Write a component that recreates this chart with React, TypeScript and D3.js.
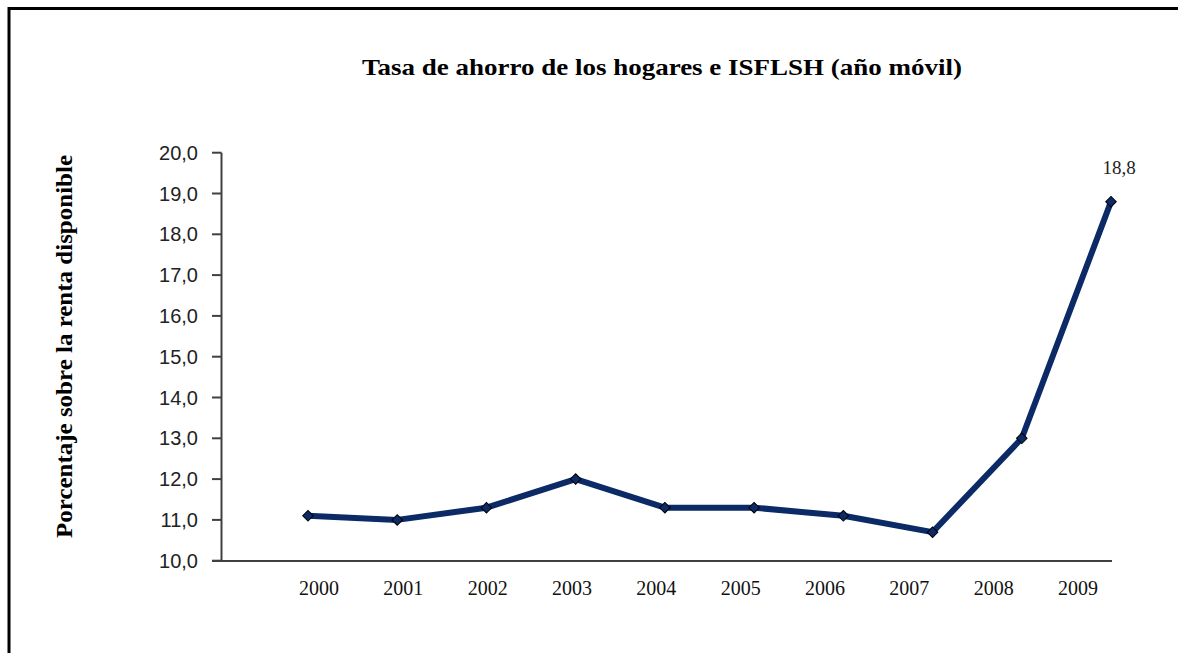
import React from "react";
import * as d3 from "d3";

const years = ["2000", "2001", "2002", "2003", "2004", "2005", "2006", "2007", "2008", "2009"];
const values = [11.1, 11.0, 11.3, 12.0, 11.3, 11.3, 11.1, 10.7, 13.0, 18.8];
const yTicks = [10, 11, 12, 13, 14, 15, 16, 17, 18, 19, 20];
const titleText = "Tasa de ahorro de los hogares e ISFLSH (año móvil)";
const yTitleText = "Porcentaje sobre la renta disponible";
const lastLabel = "18,8";

const W = 1178;
const H = 653;

export default function App() {
  const y = d3.scaleLinear().domain([10, 20]).range([560.7, 152.7]);
  const xLabel = d3.scalePoint<string>().domain(years).range([319, 1078]);
  const xPoint = d3.scalePoint<string>().domain(years).range([308, 1111]);
  const fmt = (v: number) => d3.format(".1f")(v).replace(".", ",");
  const line = d3
    .line<number>()
    .x((_, i) => xPoint(years[i]) as number)
    .y((d) => y(d));
  const axisX = 221.5;
  const axisY = 561;
  const marker = d3.symbol().type(d3.symbolSquare).size(56)();
  const last = values.length - 1;

  return (
    <svg
      width={W}
      height={H}
      style={{ position: "absolute", left: 0, top: 0, background: "#fff" }}
    >
      <rect x={0} y={0} width={W} height={H} fill="#fff" />
      <rect x={9} y={8.5} width={W + 20} height={H + 20} fill="none" stroke="#000" strokeWidth={3} />
      <text
        x={662}
        y={75}
        textAnchor="middle"
        fontFamily="'Liberation Serif', 'DejaVu Serif', serif"
        fontWeight="bold"
        fontSize={24}
        textLength={600}
        lengthAdjust="spacingAndGlyphs"
        fill="#000"
      >
        {titleText}
      </text>
      <text
        transform={`translate(72,346.5) rotate(-90)`}
        textAnchor="middle"
        fontFamily="'Liberation Serif', 'DejaVu Serif', serif"
        fontWeight="bold"
        fontSize={23}
        textLength={383}
        lengthAdjust="spacingAndGlyphs"
        fill="#000"
      >
        {yTitleText}
      </text>
      {/* y axis */}
      <line x1={axisX} x2={axisX} y1={y(20)} y2={axisY} stroke="#404040" strokeWidth={2} />
      {yTicks.map((t) => (
        <g key={t}>
          <line x1={212} x2={axisX} y1={y(t)} y2={y(t)} stroke="#404040" strokeWidth={2} />
          <text
            x={198}
            y={y(t)}
            dy="0.35em"
            textAnchor="end"
            fontFamily="'Liberation Sans', Arial, sans-serif"
            fontSize={20}
            fill="#222"
          >
            {fmt(t)}
          </text>
        </g>
      ))}
      {/* x axis */}
      <line x1={212} x2={1112} y1={axisY} y2={axisY} stroke="#404040" strokeWidth={2} />
      {years.map((yr) => (
        <text
          key={yr}
          x={xLabel(yr)}
          y={595}
          textAnchor="middle"
          fontFamily="'Liberation Serif', 'DejaVu Serif', serif"
          fontSize={20}
          fill="#111"
        >
          {yr}
        </text>
      ))}
      <path d={line(values) || ""} fill="none" stroke="#0c2a66" strokeWidth={6} strokeLinejoin="round" />
      {values.map((v, i) => (
        <path
          key={i}
          d={marker || ""}
          transform={`translate(${xPoint(years[i])},${y(v)}) rotate(45)`}
          fill="#0c2a66"
          stroke="#000"
          strokeWidth={1}
        />
      ))}
      <text
        x={xPoint(years[last])! + 8}
        y={y(values[last]) - 28}
        textAnchor="middle"
        fontFamily="'Liberation Serif', 'DejaVu Serif', serif"
        fontSize={19}
        fill="#222"
      >
        {lastLabel}
      </text>
    </svg>
  );
}
